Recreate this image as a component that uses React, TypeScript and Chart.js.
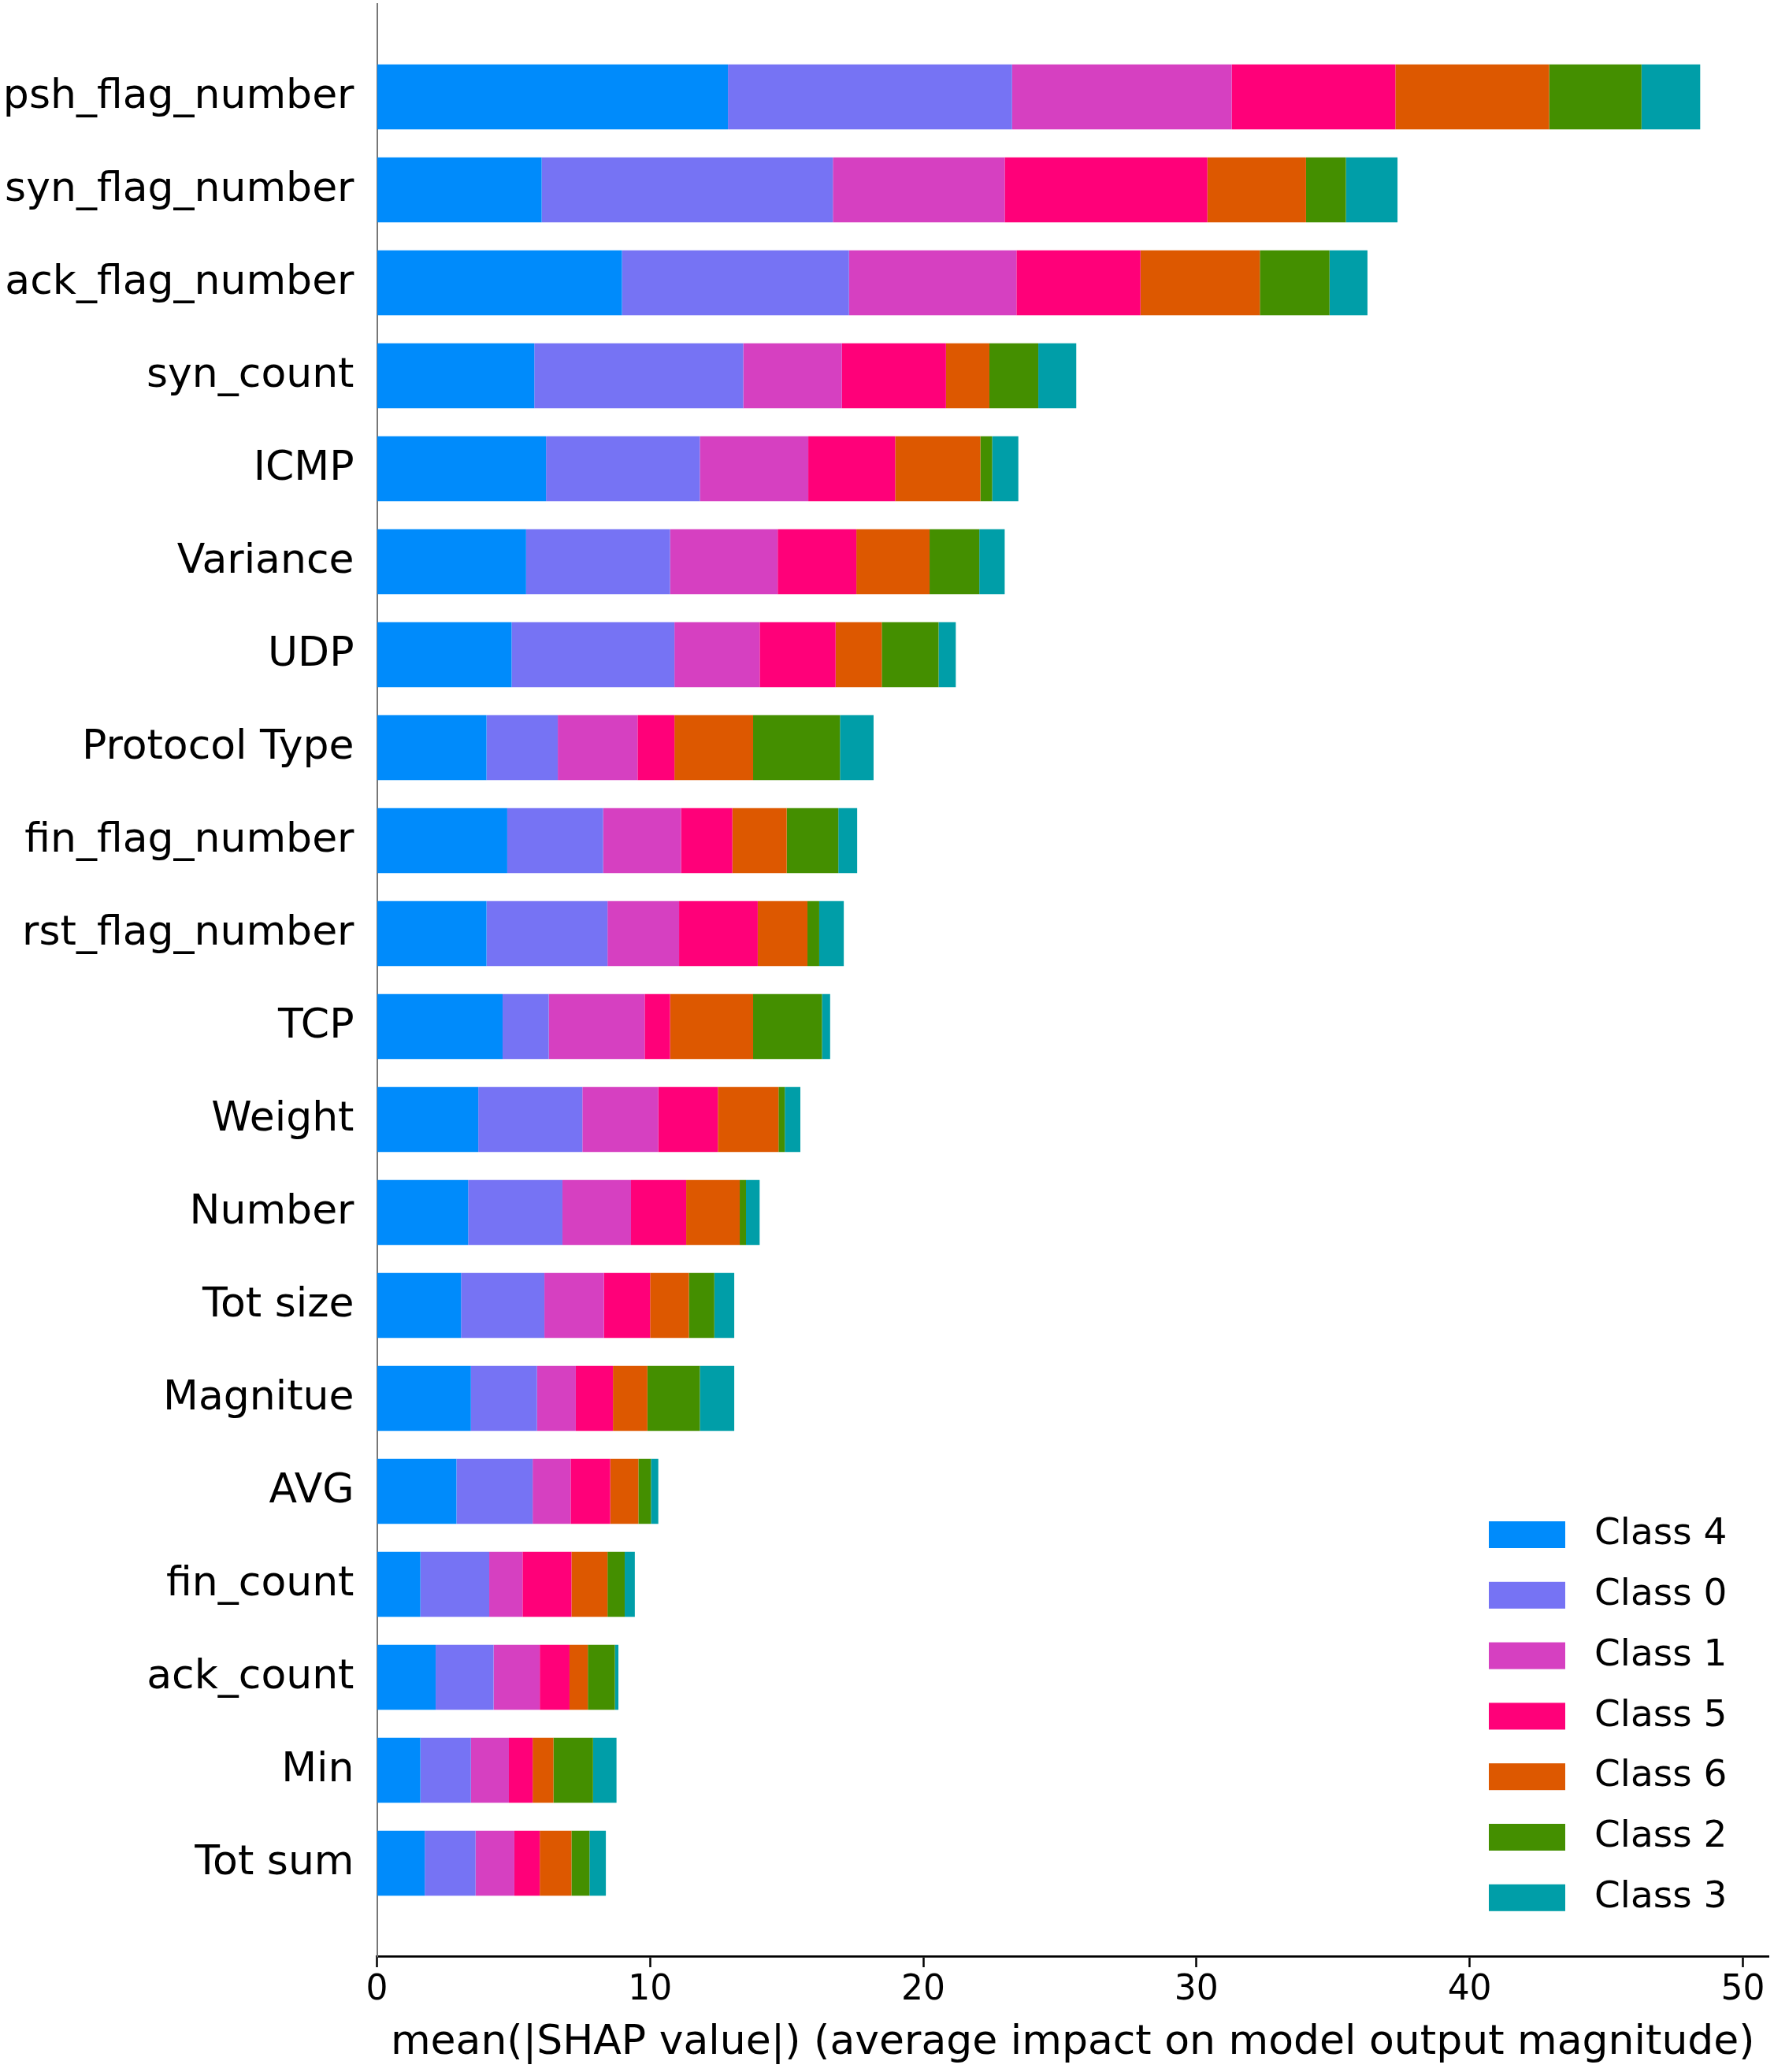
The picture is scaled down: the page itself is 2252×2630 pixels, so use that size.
import React, { useEffect, useRef } from "react";
import { Chart, registerables } from "chart.js";

Chart.register(...registerables);

const features = [
  "psh_flag_number", "syn_flag_number", "ack_flag_number", "syn_count", "ICMP",
  "Variance", "UDP", "Protocol Type", "fin_flag_number", "rst_flag_number",
  "TCP", "Weight", "Number", "Tot size", "Magnitue",
  "AVG", "fin_count", "ack_count", "Min", "Tot sum",
];

const classLabels = ["Class 4", "Class 0", "Class 1", "Class 5", "Class 6", "Class 2", "Class 3"];
const classColors = ["#008BFB", "#7673F4", "#D640C1", "#FF0079", "#DD5800", "#448F00", "#009EA8"];

const class4 = [12.85, 6.03, 8.97, 5.76, 6.19, 5.46, 4.93, 4.01, 4.77, 4.01, 4.6, 3.71, 3.34, 3.08, 3.44, 2.91, 1.59, 2.15, 1.59, 1.75];
const class0 = [10.4, 10.66, 8.31, 7.65, 5.63, 5.27, 5.96, 2.61, 3.51, 4.43, 1.69, 3.81, 3.45, 3.05, 2.42, 2.79, 2.52, 2.12, 1.85, 1.86];
const class1 = [8.04, 6.29, 6.13, 3.61, 3.97, 3.94, 3.12, 2.92, 2.85, 2.62, 3.51, 2.78, 2.51, 2.18, 1.42, 1.39, 1.22, 1.69, 1.39, 1.42];
const class5 = [5.99, 7.42, 4.54, 3.81, 3.18, 2.88, 2.78, 1.35, 1.88, 2.88, 0.93, 2.18, 2.02, 1.69, 1.36, 1.45, 1.79, 1.09, 0.87, 0.93];
const class6 = [5.63, 3.61, 4.37, 1.59, 3.12, 2.68, 1.69, 2.88, 1.99, 1.82, 3.04, 2.22, 1.96, 1.42, 1.26, 1.03, 1.32, 0.67, 0.76, 1.16];
const class2 = [3.38, 1.46, 2.55, 1.79, 0.43, 1.82, 2.08, 3.18, 1.89, 0.43, 2.52, 0.23, 0.23, 0.93, 1.92, 0.46, 0.63, 0.99, 1.45, 0.66];
const class3 = [2.15, 1.89, 1.39, 1.39, 0.96, 0.93, 0.63, 1.23, 0.69, 0.9, 0.3, 0.57, 0.5, 0.73, 1.26, 0.27, 0.37, 0.13, 0.86, 0.6];

const seriesValues = [class4, class0, class1, class5, class6, class2, class3];

const xTickStep = 10;
const xMax = 50.94;
const xTitle = "mean(|SHAP value|) (average impact on model output magnitude)";

const FONT = "'DejaVu Sans', 'Liberation Sans', sans-serif";

const insideLegend = {
  id: "insideLegend",
  afterDatasetsDraw(chart: any) {
    const { ctx, chartArea } = chart;
    const patchX = chartArea.right - 355;
    const patchW = 97;
    const patchH = 34;
    const textX = chartArea.right - 221;
    const firstY = chartArea.bottom - 535;
    const step = 76.8;
    ctx.save();
    chart.data.datasets.forEach((ds: any, i: number) => {
      const cy = firstY + i * step;
      ctx.fillStyle = ds.backgroundColor;
      ctx.fillRect(patchX, cy - patchH / 2, patchW, patchH);
      ctx.fillStyle = "#000000";
      ctx.font = `47px ${FONT}`;
      ctx.textAlign = "left";
      ctx.textBaseline = "middle";
      ctx.fillText(ds.label, textX, cy);
    });
    ctx.restore();
  },
};

export default function App() {
  const canvasRef = useRef<HTMLCanvasElement | null>(null);

  useEffect(() => {
    if (!canvasRef.current) return;
    const labels = ["", ...features, ""];
    const datasets = classLabels.map((label, i) => ({
      label,
      data: [null, ...seriesValues[i], null],
      backgroundColor: classColors[i],
      borderWidth: 0,
      barPercentage: 0.7,
      categoryPercentage: 1.0,
    }));

    const chart = new Chart(canvasRef.current, {
      type: "bar",
      data: { labels, datasets: datasets as any },
      plugins: [insideLegend],
      options: {
        indexAxis: "y",
        animation: false,
        responsive: true,
        maintainAspectRatio: false,
        layout: { padding: { top: 5, right: 7, left: 0, bottom: 0 } },
        plugins: {
          legend: { display: false },
          tooltip: { enabled: false },
          title: { display: false },
        },
        scales: {
          x: {
            type: "linear",
            stacked: true,
            min: 0,
            max: xMax,
            afterFit: (s: any) => {
              s.height = 147;
              s.paddingLeft = 0;
              s.paddingRight = 0;
            },
            ticks: {
              stepSize: xTickStep,
              includeBounds: false,
              color: "#000000",
              font: { family: FONT, size: 44 },
              padding: 3,
            },
            grid: {
              display: true,
              drawOnChartArea: false,
              drawTicks: true,
              tickLength: 14,
              tickWidth: 2.5,
              tickColor: "#000000",
              color: "#000000",
            },
            border: { display: true, color: "#000000", width: 2.7 },
            title: {
              display: true,
              text: xTitle,
              color: "#000000",
              font: { family: FONT, size: 52 },
              padding: { top: 0, bottom: 5 },
            },
          },
          y: {
            type: "category",
            stacked: true,
            offset: false,
            afterFit: (s: any) => {
              s.width = 478.5;
              s.paddingTop = 0;
              s.paddingBottom = 0;
            },
            ticks: {
              color: "#000000",
              font: { family: FONT, size: 52 },
              padding: 29,
              autoSkip: false,
            },
            grid: {
              display: true,
              drawOnChartArea: false,
              drawTicks: false,
              color: "rgba(0,0,0,0)",
            },
            border: { display: true, color: "#777777", width: 2 },
          },
        },
      },
    });
    return () => chart.destroy();
  }, []);

  return (
    <div style={{ position: "absolute", left: 0, top: 0, width: 2252, height: 2630, background: "#ffffff" }}>
      <canvas ref={canvasRef} />
    </div>
  );
}
